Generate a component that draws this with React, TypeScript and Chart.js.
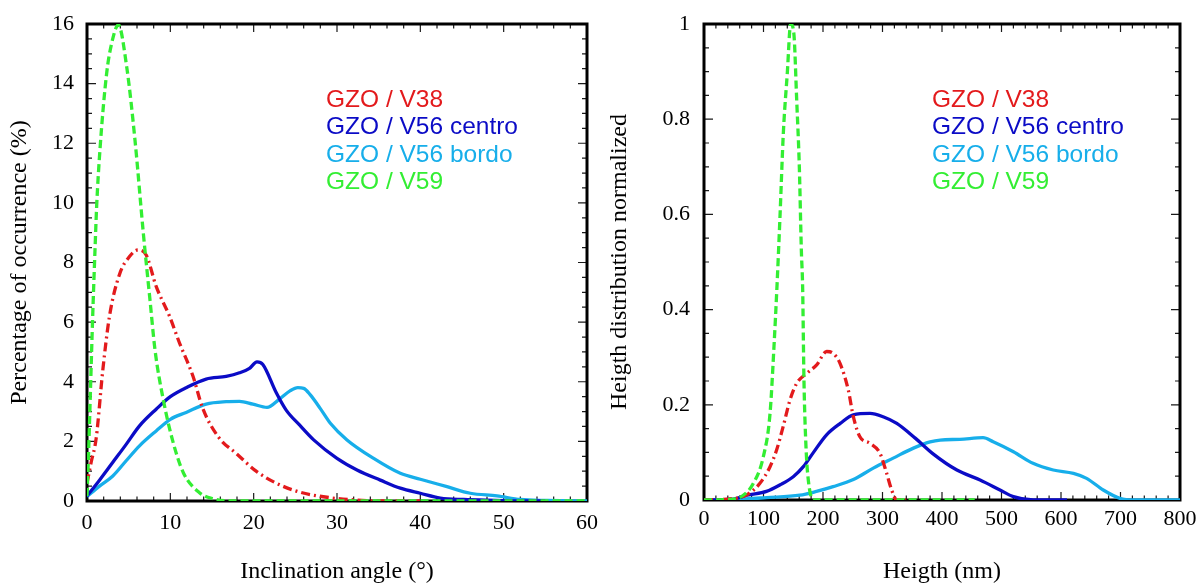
import React, { useEffect, useRef } from 'react';
import { Chart, registerables } from 'chart.js';

Chart.register(...registerables);

const SERIF = "'Liberation Serif', 'Times New Roman', serif";
const SANS = "'Liberation Sans', Arial, sans-serif";

const SERIES_LABELS = ['GZO / V38', 'GZO / V56 centro', 'GZO / V56 bordo', 'GZO / V59'];
const SERIES_COLORS = ['#e31a1c', '#0b0bc6', '#17aeea', '#33ee33'];
const SERIES_DASH = [[9, 4, 2, 4], [], [], [8, 4]];
const SERIES_ORDER = [1, 2, 3, 0];

// ---------- Left chart: inclination angle ----------
const LEFT_X_TICKS = [0, 10, 20, 30, 40, 50, 60];
const LEFT_X_LABELS = ['0', '10', '20', '30', '40', '50', '60'];
const LEFT_Y_TICKS = [0, 2, 4, 6, 8, 10, 12, 14, 16];
const LEFT_Y_LABELS = ['0', '2', '4', '6', '8', '10', '12', '14', '16'];

const L_V38_X = [0, 0.5, 1.1, 1.9, 2.7, 3.9, 5.1, 6.1, 7.1, 8.3, 9.9, 11.1, 12.7, 13.9, 15.9, 17.9, 20.3, 22.7, 25.5, 29.2, 32.4, 35, 40];
const L_V38_Y = [0.6, 1.3, 2.1, 4.4, 6.2, 7.6, 8.2, 8.42, 8.25, 7.2, 6.2, 5.3, 4.2, 3.1, 2.1, 1.6, 1.0, 0.6, 0.3, 0.11, 0.03, 0, 0];

const L_V56C_X = [0, 1.5, 3.1, 4.7, 6.3, 8.3, 10, 11.9, 14.3, 16.7, 18.3, 19.5, 20.4, 21.1, 22.7, 23.9, 25.5, 27.2, 30, 32.4, 35.2, 37.6, 40, 42.4, 45.2, 49, 52, 55];
const L_V56C_Y = [0.17, 0.7, 1.3, 1.9, 2.52, 3.08, 3.5, 3.8, 4.09, 4.18, 4.3, 4.45, 4.67, 4.58, 3.64, 3.05, 2.55, 2.05, 1.43, 1.04, 0.7, 0.43, 0.26, 0.1, 0.05, 0.02, 0, 0];

const L_V56B_X = [0, 1.5, 3.1, 4.7, 6.3, 8.3, 10, 11.9, 14.3, 16.7, 18.3, 19.9, 21.6, 23.1, 24.4, 25.3, 26, 26.8, 28, 29.2, 31.2, 34.4, 37.6, 40, 43.2, 46, 49.2, 52, 55.2, 60];
const L_V56B_Y = [0.15, 0.5, 0.84, 1.35, 1.85, 2.35, 2.74, 2.97, 3.25, 3.33, 3.34, 3.25, 3.14, 3.42, 3.7, 3.8, 3.78, 3.56, 3.1, 2.61, 2.05, 1.43, 0.93, 0.73, 0.48, 0.26, 0.17, 0.05, 0.02, 0];

const L_V59_X = [0, 0.2, 0.44, 0.68, 0.96, 1.16, 1.56, 2.36, 3.0, 3.76, 4.76, 5.76, 6.76, 7.56, 8.16, 9.16, 10.36, 11.56, 13.5, 15.1, 17.5, 60];
const L_V59_Y = [0.17, 1.7, 3.95, 6.18, 8.42, 9.9, 11.8, 14.35, 15.4, 15.97, 14.57, 12.1, 8.98, 6.74, 5.07, 3.39, 1.94, 0.95, 0.28, 0.08, 0, 0];

// ---------- Right chart: height ----------
const RIGHT_X_TICKS = [0, 100, 200, 300, 400, 500, 600, 700, 800];
const RIGHT_X_LABELS = ['0', '100', '200', '300', '400', '500', '600', '700', '800'];
const RIGHT_Y_TICKS = [0, 0.2, 0.4, 0.6, 0.8, 1];
const RIGHT_Y_LABELS = ['0', '0.2', '0.4', '0.6', '0.8', '1'];

const R_V38_X = [0, 49, 72, 94, 111, 122, 133, 144.5, 155.8, 172.6, 189.4, 206.2, 217.3, 228.6, 242.5, 251, 262, 279, 295.8, 307, 315.4, 324, 340];
const R_V38_Y = [0, 0.003, 0.011, 0.035, 0.07, 0.105, 0.154, 0.21, 0.245, 0.266, 0.284, 0.312, 0.308, 0.287, 0.231, 0.175, 0.133, 0.119, 0.098, 0.056, 0.021, 0, 0];

const R_V56C_X = [0, 50, 72, 105, 128, 150, 167, 184, 206, 229, 251, 279, 301, 324, 355, 385, 425, 464, 497.5, 520, 553, 610];
const R_V56C_Y = [0, 0.002, 0.01, 0.018, 0.032, 0.049, 0.07, 0.1, 0.137, 0.161, 0.179, 0.182, 0.175, 0.161, 0.13, 0.097, 0.063, 0.042, 0.021, 0.007, 0, 0];

const R_V56B_X = [0, 50, 105, 161, 189, 217, 251, 284.5, 318, 352, 380, 397, 430, 469, 486, 520, 553, 587, 621, 643, 671, 699, 722, 800];
const R_V56B_Y = [0, 0.001, 0.005, 0.01, 0.018, 0.028, 0.043, 0.067, 0.088, 0.109, 0.122, 0.126, 0.1275, 0.131, 0.1225, 0.1015, 0.077, 0.063, 0.056, 0.0455, 0.021, 0.0035, 0, 0];

const R_V59_X = [0, 50, 66, 83, 99.7, 111, 117.6, 122.7, 127.7, 133.3, 140, 145.7, 151, 155.8, 160.2, 163.6, 165.8, 168, 171.4, 175.3, 183.8, 455];
const R_V59_Y = [0, 0.002, 0.01, 0.035, 0.091, 0.182, 0.322, 0.45, 0.595, 0.77, 0.897, 1.0, 0.98, 0.84, 0.7, 0.525, 0.445, 0.252, 0.112, 0.042, 0, 0];

const frameTicks = {
  id: 'frameTicks',
  beforeDatasetsDraw(chart: any) {
    const o = chart.options.plugins.frameTicks;
    const { ctx, chartArea: a } = chart;
    const xs = chart.scales.x;
    const ys = chart.scales.y;
    ctx.save();
    ctx.strokeStyle = '#1a1a1a';
    ctx.lineWidth = 1.2;
    const isMajor = (v: number, arr: number[]) => arr.some((t) => Math.abs(t - v) < 1e-6);
    const nx = Math.round((xs.max - xs.min) / o.xMinor);
    for (let i = 0; i <= nx; i++) {
      const v = xs.min + i * o.xMinor;
      const px = xs.getPixelForValue(v);
      const len = isMajor(v, o.xMajor) ? 8 : 4.5;
      ctx.beginPath();
      ctx.moveTo(px, a.bottom);
      ctx.lineTo(px, a.bottom - len);
      ctx.moveTo(px, a.top);
      ctx.lineTo(px, a.top + len);
      ctx.stroke();
    }
    const ny = Math.round((ys.max - ys.min) / o.yMinor);
    for (let i = 0; i <= ny; i++) {
      const v = ys.min + i * o.yMinor;
      const py = ys.getPixelForValue(v);
      const len = isMajor(v, o.yMajor) ? 9 : 5;
      ctx.beginPath();
      ctx.moveTo(a.left, py);
      ctx.lineTo(a.left + len, py);
      ctx.moveTo(a.right, py);
      ctx.lineTo(a.right - len, py);
      ctx.stroke();
    }
    ctx.strokeStyle = '#000';
    ctx.lineWidth = 3;
    ctx.strokeRect(a.left, a.top, a.right - a.left, a.bottom - a.top);
    ctx.restore();
  },
};

const textLegend = {
  id: 'textLegend',
  afterDraw(chart: any) {
    const o = chart.options.plugins.textLegend;
    const ctx = chart.ctx;
    ctx.save();
    ctx.font = `${o.size}px ${SANS}`;
    ctx.textAlign = 'left';
    ctx.textBaseline = 'alphabetic';
    chart.data.datasets.forEach((ds: any, i: number) => {
      ctx.fillStyle = ds.borderColor;
      ctx.fillText(ds.label, o.x, o.y + i * o.dy);
    });
    ctx.restore();
  },
};

type Cfg = {
  xs: number[][];
  ys: number[][];
  xMin: number; xMax: number; yMin: number; yMax: number;
  xTicks: number[]; xLabels: string[]; yTicks: number[]; yLabels: string[];
  xMinor: number; yMinor: number;
  xTitle: string; yTitle: string;
  yAxisWidth: number; xAxisHeight: number; padRight: number;
  xTickPad: number; yTickPad: number;
  legendX: number;
};

function makeConfig(c: Cfg): any {
  return {
    type: 'line',
    data: {
      datasets: SERIES_LABELS.map((label, i) => ({
        label,
        data: c.xs[i].map((xv, j) => ({ x: xv, y: c.ys[i][j] })),
        borderColor: SERIES_COLORS[i],
        backgroundColor: SERIES_COLORS[i],
        borderWidth: 3.3,
        borderDash: SERIES_DASH[i],
        pointRadius: 0,
        fill: false,
        cubicInterpolationMode: 'monotone',
        order: SERIES_ORDER[i],
      })),
    },
    options: {
      responsive: false,
      animation: false,
      devicePixelRatio: 1,
      events: [],
      layout: { padding: { left: 0, top: 24, right: c.padRight, bottom: 0 } },
      plugins: {
        legend: { display: false },
        tooltip: { enabled: false },
        frameTicks: { xMajor: c.xTicks, yMajor: c.yTicks, xMinor: c.xMinor, yMinor: c.yMinor },
        textLegend: { x: c.legendX, y: 107, dy: 27.3, size: 24.5 },
      },
      scales: {
        x: {
          type: 'linear',
          min: c.xMin,
          max: c.xMax,
          afterFit: (s: any) => {
            s.height = c.xAxisHeight;
            s.paddingLeft = 0;
            s.paddingRight = 0;
          },
          afterBuildTicks: (s: any) => { s.ticks = c.xTicks.map((v) => ({ value: v })); },
          ticks: {
            callback: (_v: any, i: number) => c.xLabels[i],
            font: { family: SERIF, size: 22 },
            color: '#000',
            padding: c.xTickPad,
            maxRotation: 0,
            autoSkip: false,
          },
          grid: { display: false, drawTicks: false },
          border: { display: false },
          title: {
            display: true,
            text: c.xTitle,
            font: { family: SERIF, size: 24, lineHeight: 0.9 },
            color: '#000',
            padding: 0,
          },
        },
        y: {
          type: 'linear',
          min: c.yMin,
          max: c.yMax,
          afterFit: (s: any) => {
            s.width = c.yAxisWidth;
            s.paddingTop = 0;
            s.paddingBottom = 0;
          },
          afterBuildTicks: (s: any) => { s.ticks = c.yTicks.map((v) => ({ value: v })); },
          ticks: {
            callback: (_v: any, i: number) => c.yLabels[i],
            font: { family: SERIF, size: 22 },
            color: '#000',
            padding: c.yTickPad,
            autoSkip: false,
          },
          grid: { display: false, drawTicks: false },
          border: { display: false },
          title: {
            display: true,
            text: c.yTitle,
            font: { family: SERIF, size: 24, lineHeight: 1.2 },
            color: '#000',
            padding: { top: 5, bottom: 0 },
          },
        },
      },
    },
    plugins: [frameTicks, textLegend],
  };
}

function ChartCanvas({ config, left, width }: { config: any; left: number; width: number }) {
  const ref = useRef<HTMLCanvasElement>(null);
  useEffect(() => {
    const chart = new Chart(ref.current as HTMLCanvasElement, config);
    return () => chart.destroy();
  }, []);
  return (
    <canvas
      ref={ref}
      width={width}
      height={583}
      style={{ position: 'absolute', left, top: 0, width, height: 583 }}
    />
  );
}

export default function App() {
  const leftCfg = makeConfig({
    xs: [L_V38_X, L_V56C_X, L_V56B_X, L_V59_X],
    ys: [L_V38_Y, L_V56C_Y, L_V56B_Y, L_V59_Y],
    xMin: 0, xMax: 60, yMin: 0, yMax: 16,
    xTicks: LEFT_X_TICKS, xLabels: LEFT_X_LABELS, yTicks: LEFT_Y_TICKS, yLabels: LEFT_Y_LABELS,
    xMinor: 2, yMinor: 0.5,
    xTitle: 'Inclination angle (°)',
    yTitle: 'Percentage of occurrence (%)',
    yAxisWidth: 87, xAxisHeight: 82, padRight: 13,
    xTickPad: 9, yTickPad: 13,
    legendX: 326,
  });
  const rightCfg = makeConfig({
    xs: [R_V38_X, R_V56C_X, R_V56B_X, R_V59_X],
    ys: [R_V38_Y, R_V56C_Y, R_V56B_Y, R_V59_Y],
    xMin: 0, xMax: 800, yMin: 0, yMax: 1,
    xTicks: RIGHT_X_TICKS, xLabels: RIGHT_X_LABELS, yTicks: RIGHT_Y_TICKS, yLabels: RIGHT_Y_LABELS,
    xMinor: 20, yMinor: 0.05,
    xTitle: 'Heigth (nm)',
    yTitle: 'Heigth distribution normalized',
    yAxisWidth: 104, xAxisHeight: 83, padRight: 17,
    xTickPad: 6, yTickPad: 14,
    legendX: 332,
  });
  return (
    <div style={{ position: 'fixed', left: 0, top: 0, width: 1197, height: 583, background: '#fff', overflow: 'hidden' }}>
      <ChartCanvas config={leftCfg} left={0} width={600} />
      <ChartCanvas config={rightCfg} left={600} width={597} />
    </div>
  );
}
